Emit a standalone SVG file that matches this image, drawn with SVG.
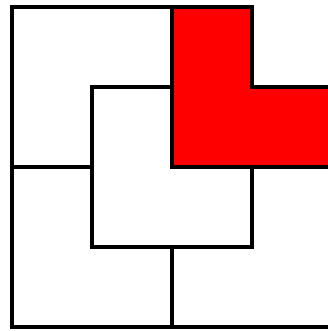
<svg xmlns="http://www.w3.org/2000/svg" width="328" height="331" viewBox="0 0 328 331">
<style>
.s{stroke:#000;stroke-width:4;fill:none}
.w{fill:#fff}
.r{fill:#ff0000}
</style>
<rect width="328" height="331" fill="#fff"/>
<g id="outer"><path class="s" d="M340 327 H12 V7 H252"/></g>
<g id="inner"><rect class="s w" x="92" y="87" width="160" height="160"/></g>
<g id="redL"><path class="s r" d="M172 7 H252 V87 H336 V167 H172 Z"/></g>
<g id="connectors">
<path class="s" d="M12 167 H92"/>
<path class="s" d="M172 247 V327"/>
</g>
</svg>
